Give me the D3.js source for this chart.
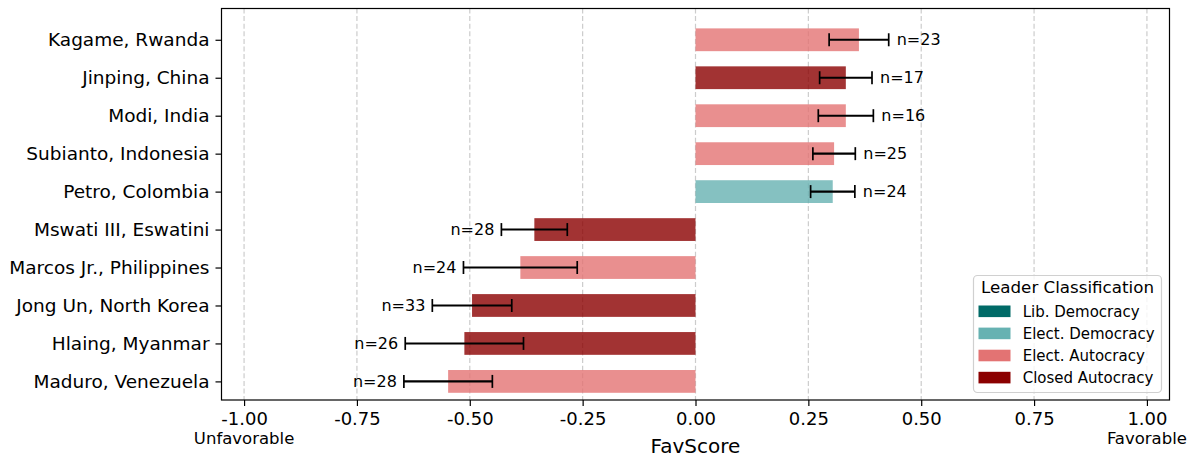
<!DOCTYPE html>
<html>
<head>
<meta charset="utf-8">
<script src="https://cdn.jsdelivr.net/npm/d3@7"></script>
<style>
  html, body { margin: 0; padding: 0; background: #ffffff; }
  svg { display: block; font-family: "DejaVu Sans", sans-serif; }
</style>
</head>
<body>
<svg id="chart" width="1196" height="459"></svg>
<script>
// ---- data ----
const leaders = ["Kagame, Rwanda", "Jinping, China", "Modi, India", "Subianto, Indonesia", "Petro, Colombia",
  "Mswati III, Eswatini", "Marcos Jr., Philippines", "Jong Un, North Korea", "Hlaing, Myanmar", "Maduro, Venezuela"];
const favScores = [0.362, 0.333, 0.333, 0.307, 0.304, -0.357, -0.388, -0.495, -0.512, -0.548];
const errHalf = [0.066, 0.058, 0.061, 0.047, 0.049, 0.073, 0.126, 0.088, 0.131, 0.098];
const nCounts = [23, 17, 16, 25, 24, 28, 24, 33, 26, 28];
const regimes = ["Elect. Autocracy", "Closed Autocracy", "Elect. Autocracy", "Elect. Autocracy", "Elect. Democracy",
  "Closed Autocracy", "Elect. Autocracy", "Closed Autocracy", "Closed Autocracy", "Elect. Autocracy"];
const classes = ["Lib. Democracy", "Elect. Democracy", "Elect. Autocracy", "Closed Autocracy"];
const classColors = ["#006a67", "#66b2b2", "#e37373", "#8b0000"];
const xTicks = [-1, -0.75, -0.5, -0.25, 0, 0.25, 0.5, 0.75, 1];
const xLabel = "FavScore";
const leftEndLabel = "Unfavorable";
const rightEndLabel = "Favorable";
const legendTitle = "Leader Classification";

// ---- layout ----
const svg = d3.select("#chart");
const plot = { left: 221.5, right: 1169.5, top: 8.5, bottom: 400 };
const x = d3.scaleLinear().domain([-1.05, 1.05]).range([plot.left, plot.right]);
const y = d3.scaleLinear().domain([-0.824, 9.49]).range([plot.top, plot.bottom]);
const color = d3.scaleOrdinal().domain(classes).range(classColors);
const barH = 0.6;
const fmt = d => d3.format(".2f")(d).replace("\u2212", "-");

// grid
svg.append("g").selectAll("line").data(xTicks).join("line")
  .attr("x1", d => x(d)).attr("x2", d => x(d))
  .attr("y1", plot.top).attr("y2", plot.bottom)
  .attr("stroke", "#cccccc").attr("stroke-width", 1.2)
  .attr("stroke-dasharray", "5,2.6");

// bars
svg.append("g").selectAll("rect").data(leaders).join("rect")
  .attr("x", (d, i) => x(Math.min(0, favScores[i])))
  .attr("width", (d, i) => Math.abs(x(favScores[i]) - x(0)))
  .attr("y", (d, i) => y(i - barH / 2))
  .attr("height", y(barH) - y(0))
  .attr("fill", (d, i) => color(regimes[i]))
  .attr("fill-opacity", 0.8);

// error bars
const eb = svg.append("g").attr("stroke", "#000").attr("fill", "none");
leaders.forEach((d, i) => {
  const lo = x(favScores[i] - errHalf[i]), hi = x(favScores[i] + errHalf[i]), cy = y(i);
  eb.append("line").attr("x1", lo).attr("x2", hi).attr("y1", cy).attr("y2", cy).attr("stroke-width", 2.1);
  [lo, hi].forEach(cx => eb.append("line").attr("x1", cx).attr("x2", cx)
    .attr("y1", cy - 6.5).attr("y2", cy + 6.5).attr("stroke-width", 1.7));
});

// n labels
svg.append("g").selectAll("text").data(leaders).join("text")
  .attr("x", (d, i) => favScores[i] >= 0 ? x(favScores[i] + errHalf[i]) + 8 : x(favScores[i] - errHalf[i]) - 7)
  .attr("y", (d, i) => y(i))
  .attr("dy", "0.35em")
  .attr("text-anchor", (d, i) => favScores[i] >= 0 ? "start" : "end")
  .attr("font-size", 16)
  .attr("fill", "#000")
  .text((d, i) => "n=" + nCounts[i]);

// frame
svg.append("rect")
  .attr("x", plot.left).attr("y", plot.top)
  .attr("width", plot.right - plot.left).attr("height", plot.bottom - plot.top)
  .attr("fill", "none").attr("stroke", "#000").attr("stroke-width", 1.2);

// x axis
const xAxis = d3.axisBottom(x).tickValues(xTicks).tickFormat(fmt).tickSize(6).tickPadding(6);
const gx = svg.append("g").attr("transform", `translate(0,${plot.bottom})`).call(xAxis);
gx.select(".domain").remove();
gx.selectAll("line").attr("stroke", "#000").attr("stroke-width", 1.2);
gx.selectAll("text").attr("font-size", 18).attr("font-family", "DejaVu Sans").attr("fill", "#000");

// y axis
const yAxis = d3.axisLeft(y).tickValues(d3.range(leaders.length)).tickFormat(i => leaders[i]).tickSize(6).tickPadding(6);
const gy = svg.append("g").attr("transform", `translate(${plot.left},0)`).call(yAxis);
gy.select(".domain").remove();
gy.selectAll("line").attr("stroke", "#000").attr("stroke-width", 1.2);
gy.selectAll("text").attr("font-size", 18.5).attr("font-family", "DejaVu Sans").attr("fill", "#000");

// end labels
svg.append("text").attr("x", x(-1)).attr("y", 444).attr("text-anchor", "middle")
  .attr("font-size", 16.5).attr("fill", "#000").text(leftEndLabel);
svg.append("text").attr("x", x(1)).attr("y", 444).attr("text-anchor", "middle")
  .attr("font-size", 16.5).attr("fill", "#000").text(rightEndLabel);
svg.append("text").attr("x", x(0)).attr("y", 453).attr("text-anchor", "middle")
  .attr("font-size", 20).attr("fill", "#000").text(xLabel);

// legend
const lg = svg.append("g");
lg.append("rect").attr("x", 973.5).attr("y", 275.5).attr("width", 188).attr("height", 117)
  .attr("rx", 4).attr("fill", "#fff").attr("fill-opacity", 0.8).attr("stroke", "#d0d0d0").attr("stroke-width", 1.2);
lg.append("text").attr("x", 1067.5).attr("y", 292.5).attr("text-anchor", "middle")
  .attr("font-size", 16.7).attr("fill", "#000").text(legendTitle);
classes.forEach((c, i) => {
  const cy = 311.3 + i * 22.1;
  lg.append("rect").attr("x", 978.5).attr("y", cy - 5.8).attr("width", 32).attr("height", 11.6)
    .attr("fill", color(c));
  lg.append("text").attr("x", 1022.7).attr("y", cy).attr("dy", "0.35em")
    .attr("font-size", 15).attr("fill", "#000").text(c);
});
</script>
</body>
</html>
